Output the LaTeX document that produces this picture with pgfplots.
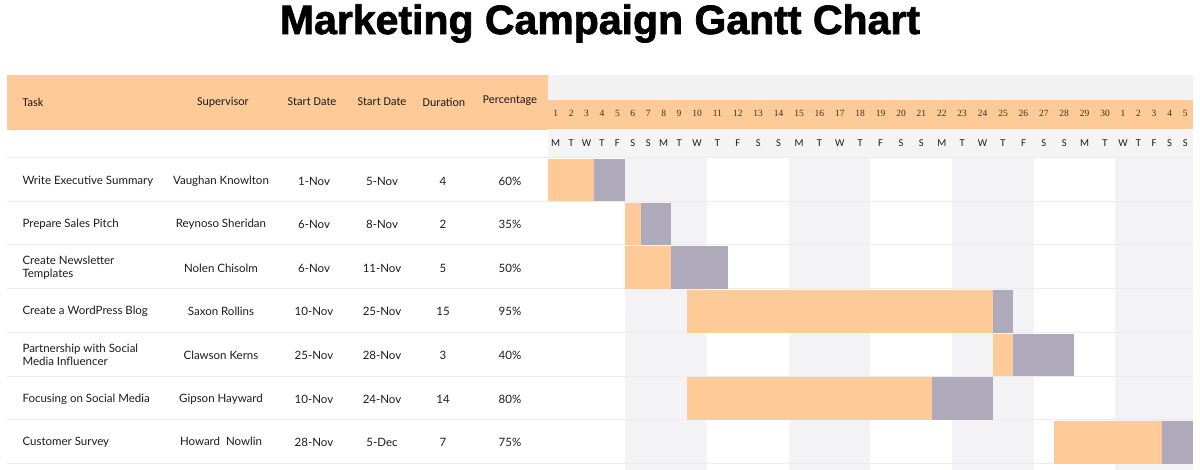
\documentclass[border=0pt]{standalone}
\usepackage{fontspec}
\setmainfont{Lato}
\newfontfamily\carl{Carlito}
\newfontfamily\titlefont[BoldFeatures={FakeBold=1.8}]{Liberation Sans}
\newfontfamily\numfont{Liberation Serif}
\usepackage{pgfplots}
\pgfplotsset{compat=1.18}
\definecolor{peach}{HTML}{FECA98}
\definecolor{greybar}{HTML}{AEAABC}
\definecolor{band}{HTML}{F3F3F6}
\definecolor{hdrgrey}{HTML}{F2F2F2}
\definecolor{lettergrey}{HTML}{F4F4F5}
\definecolor{rowline}{HTML}{ECECEC}
\definecolor{txt}{HTML}{1C1C1C}
\definecolor{numcol}{HTML}{3E3024}
\begin{document}
\begin{tikzpicture}
% ---------- Axis A: table (pixel coordinates) ----------
\begin{axis}[
  at={(0,0)}, anchor=south west,
  width=1200pt, height=470pt, scale only axis,
  xmin=0, xmax=1200, ymin=0, ymax=470, y dir=reverse,
  hide axis, clip=false]
% left header background
\addplot[fill=peach, draw=none] coordinates {(7,75) (548,75) (548,130) (7,130)} --cycle;
% row lines
\pgfplotsinvokeforeach{0,...,7}{
  \addplot[rowline, line width=0.8pt] coordinates {(7,157.5+43.7*#1) (548,157.5+43.7*#1)};
}
% title
\node[font=\titlefont\bfseries\fontsize{41}{48}\selectfont, text=black] at (axis cs:600,23.5) {Marketing Campaign Gantt Chart};
% header labels
\begin{scope}[every node/.style={font=\carl\fontsize{12}{14}\selectfont, text=txt}]
\node[anchor=west] at (axis cs:19,102) {Task};
\node at (axis cs:223,102) {Supervisor};
\node at (axis cs:312,102) {Start Date};
\node at (axis cs:382,102) {Start Date};
\node at (axis cs:444,102) {Duration};
\node at (axis cs:510,101) {Percentage};
\end{scope}
% week labels
\begin{scope}[every node/.style={font=\carl\fontsize{13.5}{15}\selectfont, text=txt}]
\node at (axis cs:601,91) {Week\hspace{4pt}1};
\node at (axis cs:722,91) {Week\hspace{4pt}2};
\node at (axis cs:861,91) {Week\hspace{4pt}3};
\node at (axis cs:1004,91) {Week\hspace{4pt}4};
\node at (axis cs:1134,91) {Week\hspace{4pt}5};
\end{scope}
% table body
\begin{scope}[every node/.style={font=\fontsize{11.5}{13.5}\selectfont, text=txt}]
\node[anchor=west] at (axis cs:19,181) {Write Executive Summary};
\node[anchor=west] at (axis cs:19,224.5) {Prepare Sales Pitch};
\node[anchor=west, align=left] at (axis cs:19,268) {Create Newsletter\\Templates};
\node[anchor=west] at (axis cs:19,311.5) {Create a WordPress Blog};
\node[anchor=west, align=left] at (axis cs:19,355) {Partnership with Social\\Media Influencer};
\node[anchor=west] at (axis cs:19,399) {Focusing on Social Media};
\node[anchor=west] at (axis cs:19,442.5) {Customer Survey};
\node at (axis cs:221,181) {Vaughan Knowlton};
\node at (axis cs:221,224.5) {Reynoso Sheridan};
\node at (axis cs:221,268) {Nolen Chisolm};
\node at (axis cs:221,311.5) {Saxon Rollins};
\node at (axis cs:221,355) {Clawson Kerns};
\node at (axis cs:221,399) {Gipson Hayward};
\node at (axis cs:221,441) {Howard\ \ Nowlin};
\node at (axis cs:314,181) {1-Nov};
\node at (axis cs:314,224.5) {6-Nov};
\node at (axis cs:314,268) {6-Nov};
\node at (axis cs:314,311.5) {10-Nov};
\node at (axis cs:314,355) {25-Nov};
\node at (axis cs:314,399) {10-Nov};
\node at (axis cs:314,442.5) {28-Nov};
\node at (axis cs:382,181) {5-Nov};
\node at (axis cs:382,224.5) {8-Nov};
\node at (axis cs:382,268) {11-Nov};
\node at (axis cs:382,311.5) {25-Nov};
\node at (axis cs:382,355) {28-Nov};
\node at (axis cs:382,399) {24-Nov};
\node at (axis cs:382,442.5) {5-Dec};
\node at (axis cs:443,181) {4};
\node at (axis cs:443,224.5) {2};
\node at (axis cs:443,268) {5};
\node at (axis cs:443,311.5) {15};
\node at (axis cs:443,355) {3};
\node at (axis cs:443,399) {14};
\node at (axis cs:443,442.5) {7};
\node at (axis cs:510,181) {60\%};
\node at (axis cs:510,224.5) {35\%};
\node at (axis cs:510,268) {50\%};
\node at (axis cs:510,311.5) {95\%};
\node at (axis cs:510,355) {40\%};
\node at (axis cs:510,399) {80\%};
\node at (axis cs:510,442.5) {75\%};
\end{scope}
\end{axis}
% ---------- Axis B: Gantt (x in days from 1 Nov, non-uniform column widths) ----------
\begin{axis}[
  at={(0,0)}, anchor=south west,
  width=1200pt, height=470pt, scale only axis,
  x coord trafo/.code={\pgfmathparse{((#1)<=9) ? (548+15.42*(#1)) : (((#1)<=30) ? (686.8+20.4*((#1)-9)) : (1115.2+15.55*((#1)-30)))}},
  xmin=-35.538, xmax=35.453, ymin=0, ymax=470, y dir=reverse,
  hide axis, clip=false]
% header rows
\addplot[fill=hdrgrey, draw=none] coordinates {(0,75) (35,75) (35,100.5) (0,100.5)} --cycle;
\addplot[fill=peach, draw=none] coordinates {(0,100.5) (35,100.5) (35,129.5) (0,129.5)} --cycle;
\addplot[fill=lettergrey, draw=none] coordinates {(0,129.5) (35,129.5) (35,157.5) (0,157.5)} --cycle;
% weekly background bands
\addplot[fill=band, draw=none] coordinates {(5,157.5) (10,157.5) (10,470) (5,470)} --cycle;
\addplot[fill=band, draw=none] coordinates {(14,157.5) (18,157.5) (18,470) (14,470)} --cycle;
\addplot[fill=band, draw=none] coordinates {(22,157.5) (26,157.5) (26,470) (22,470)} --cycle;
\addplot[fill=band, draw=none] coordinates {(30,157.5) (35,157.5) (35,470) (30,470)} --cycle;
% row lines
\pgfplotsinvokeforeach{0,...,7}{
  \addplot[rowline, line width=0.8pt] coordinates {(0,157.5+43.7*#1) (35,157.5+43.7*#1)};
}
% task bars: start, completed part (peach), remaining (grey)
% Write Executive Summary
\addplot[fill=peach, draw=none] coordinates {(0,159) (3,159) (3,201.5) (0,201.5)} --cycle;
\addplot[fill=greybar, draw=none] coordinates {(3,159) (5,159) (5,201.5) (3,201.5)} --cycle;
% Prepare Sales Pitch
\addplot[fill=peach, draw=none] coordinates {(5,202.7) (6,202.7) (6,245.2) (5,245.2)} --cycle;
\addplot[fill=greybar, draw=none] coordinates {(6,202.7) (8,202.7) (8,245.2) (6,245.2)} --cycle;
% Create Newsletter Templates
\addplot[fill=peach, draw=none] coordinates {(5,246.4) (8,246.4) (8,288.9) (5,288.9)} --cycle;
\addplot[fill=greybar, draw=none] coordinates {(8,246.4) (11,246.4) (11,288.9) (8,288.9)} --cycle;
% Create a WordPress Blog
\addplot[fill=peach, draw=none] coordinates {(9,290.1) (24,290.1) (24,332.6) (9,332.6)} --cycle;
\addplot[fill=greybar, draw=none] coordinates {(24,290.1) (25,290.1) (25,332.6) (24,332.6)} --cycle;
% Partnership with Social Media Influencer
\addplot[fill=peach, draw=none] coordinates {(24,333.8) (25,333.8) (25,376.3) (24,376.3)} --cycle;
\addplot[fill=greybar, draw=none] coordinates {(25,333.8) (28,333.8) (28,376.3) (25,376.3)} --cycle;
% Focusing on Social Media
\addplot[fill=peach, draw=none] coordinates {(9,377.5) (21,377.5) (21,420) (9,420)} --cycle;
\addplot[fill=greybar, draw=none] coordinates {(21,377.5) (24,377.5) (24,420) (21,420)} --cycle;
% Customer Survey
\addplot[fill=peach, draw=none] coordinates {(27,421.2) (33,421.2) (33,463.7) (27,463.7)} --cycle;
\addplot[fill=greybar, draw=none] coordinates {(33,421.2) (35,421.2) (35,463.7) (33,463.7)} --cycle;
% day numbers
\pgfplotsinvokeforeach{1,...,30}{
  \node[font=\numfont\fontsize{9.5}{11}\selectfont, text=numcol] at (axis cs:#1-0.5,113.5) {#1};
}
\pgfplotsinvokeforeach{1,...,5}{
  \node[font=\numfont\fontsize{9.5}{11}\selectfont, text=numcol] at (axis cs:29.5+#1,113.5) {#1};
}
% weekday letters
\pgfplotsinvokeforeach{0,7,14,21,28}{
  \node[font=\carl\fontsize{10.5}{12}\selectfont, text=txt] at (axis cs:#1+0.5,143) {M};
  \node[font=\carl\fontsize{10.5}{12}\selectfont, text=txt] at (axis cs:#1+1.5,143) {T};
  \node[font=\carl\fontsize{10.5}{12}\selectfont, text=txt] at (axis cs:#1+2.5,143) {W};
  \node[font=\carl\fontsize{10.5}{12}\selectfont, text=txt] at (axis cs:#1+3.5,143) {T};
  \node[font=\carl\fontsize{10.5}{12}\selectfont, text=txt] at (axis cs:#1+4.5,143) {F};
  \node[font=\carl\fontsize{10.5}{12}\selectfont, text=txt] at (axis cs:#1+5.5,143) {S};
  \node[font=\carl\fontsize{10.5}{12}\selectfont, text=txt] at (axis cs:#1+6.5,143) {S};
}
\end{axis}
\pgfresetboundingbox
\useasboundingbox (0,0) rectangle (1200pt,470pt);
\end{tikzpicture}
\end{document}
